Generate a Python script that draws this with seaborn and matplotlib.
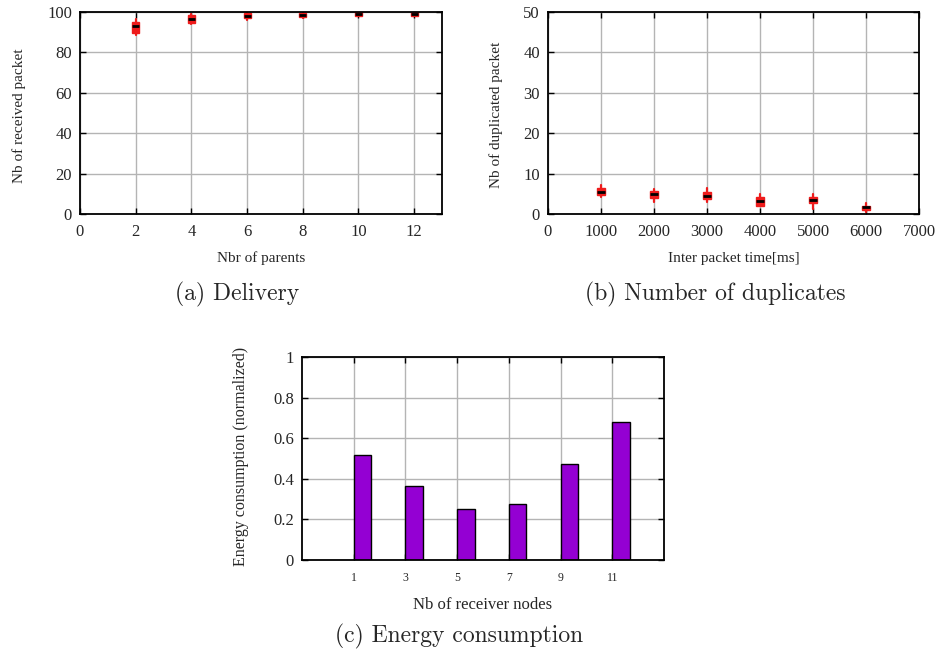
import numpy as np
import pandas as pd
import matplotlib
matplotlib.use("Agg")
import matplotlib.pyplot as plt
import seaborn as sns

# ---------------- data ----------------
parents = [2, 4, 6, 8, 10, 12]
recv_whislo = [88.5, 94.0, 96.0, 97.0, 97.8, 97.8]
recv_q1 = [89.4, 94.5, 96.8, 97.3, 98.0, 98.1]
recv_med = [93.1, 96.6, 98.1, 98.4, 99.0, 99.0]
recv_q3 = [95.1, 98.5, 99.4, 99.5, 99.9, 99.8]
recv_whishi = [96.3, 99.0, 100.0, 100.0, 100.0, 100.0]

inter_packet = [1000, 2000, 3000, 4000, 5000, 6000]
dup_whislo = [4.1, 3.0, 2.9, 2.1, 1.2, 0.6]
dup_q1 = [4.7, 3.9, 3.6, 2.1, 2.6, 1.0]
dup_med = [5.4, 4.95, 4.45, 3.3, 3.5, 1.65]
dup_q3 = [6.5, 5.7, 5.4, 4.3, 4.2, 2.1]
dup_whishi = [7.2, 6.2, 6.5, 4.9, 4.9, 2.6]

receivers = [1, 3, 5, 7, 9, 11]
energy = [0.517, 0.364, 0.253, 0.274, 0.474, 0.679]

# ---------------- style ----------------
sns.set_theme(style="white")
plt.rcParams["font.family"] = ["Liberation Serif", "DejaVu Serif"]
plt.rcParams["axes.linewidth"] = 1.3
plt.rcParams["axes.edgecolor"] = "black"

RED = "#ee1b1b"
PURPLE = "#9400d3"
GRID = "#b4b4b4"

W, H = 940, 658
fig = plt.figure(figsize=(W / 100, H / 100), dpi=100)


def px_axes(left, top, right, bottom):
    return fig.add_axes([left / W, 1 - bottom / H, (right - left) / W, (bottom - top) / H])


def style_axes(ax, xpad=7.5, ypad=5.8, xsize=12, ysize=12):
    ax.set_facecolor("white")
    ax.set_axisbelow(True)
    ax.grid(True, color=GRID, lw=1.0)
    for s in ax.spines.values():
        s.set_color("black")
        s.set_linewidth(1.3)
    ax.tick_params(axis="both", direction="in", length=4, width=1.0, color="black",
                   top=True, right=True, bottom=True, left=True)
    ax.tick_params(axis="x", pad=xpad, labelsize=xsize)
    ax.tick_params(axis="y", pad=ypad, labelsize=ysize)


def boxes(ax, pos, lo, q1, med, q3, hi, width):
    stats = [dict(whislo=a, q1=b, med=c, q3=d, whishi=e)
             for a, b, c, d, e in zip(lo, q1, med, q3, hi)]
    ax.bxp(stats, positions=pos, widths=width, patch_artist=True, showfliers=False,
           manage_ticks=False,
           boxprops=dict(facecolor=RED, edgecolor=RED, linewidth=1.0),
           medianprops=dict(color="black", linewidth=2.0),
           whiskerprops=dict(color=RED, linewidth=1.6),
           capprops=dict(color=RED, linewidth=0))


# ---------------- (a) delivery ----------------
ax1 = px_axes(80, 12, 442, 214)
style_axes(ax1)
boxes(ax1, parents, recv_whislo, recv_q1, recv_med, recv_q3, recv_whishi, 0.25)
ax1.set_xlim(0, 13)
ax1.set_ylim(0, 100)
ax1.set_xticks([0, 2, 4, 6, 8, 10, 12])
ax1.set_yticks([0, 20, 40, 60, 80, 100])
ax1.set_xlabel("Nbr of parents", fontsize=11)
ax1.set_ylabel("Nb of received packet", fontsize=11)
ax1.xaxis.set_label_coords(0.5, (214 - 258) / 202)
ax1.xaxis.label.set_va("center")
ax1.yaxis.set_label_coords((19 - 80) / 362, 0.485)
ax1.yaxis.label.set_va("center")

# ---------------- (b) duplicates ----------------
ax2 = px_axes(548, 12, 919, 214)
style_axes(ax2)
boxes(ax2, inter_packet, dup_whislo, dup_q1, dup_med, dup_q3, dup_whishi, 135)
ax2.set_xlim(0, 7000)
ax2.set_ylim(0, 50)
ax2.set_xticks(list(range(0, 7001, 1000)))
ax2.set_yticks([0, 10, 20, 30, 40, 50])
ax2.set_xlabel("Inter packet time[ms]", fontsize=11)
ax2.set_ylabel("Nb of duplicated packet", fontsize=11)
ax2.xaxis.set_label_coords((734 - 548) / 371, (214 - 258) / 202)
ax2.xaxis.label.set_va("center")
ax2.yaxis.set_label_coords((496 - 548) / 371, 0.49)
ax2.yaxis.label.set_va("center")

# ---------------- (c) energy ----------------
ax3 = px_axes(302, 357, 664, 560)
df = pd.DataFrame({"receivers": receivers, "energy": energy})
sns.barplot(data=df, x="receivers", y="energy", native_scale=True, width=0.34,
            color=PURPLE, saturation=1, edgecolor="black", linewidth=1.0, ax=ax3)
for p in ax3.patches:
    p.set_x(p.get_x() + p.get_width() / 2)
style_axes(ax3, xpad=8.5, xsize=8.5)
ax3.set_xlim(-1, 13)
ax3.set_ylim(0, 1)
ax3.set_xticks(receivers)
ax3.set_yticks([0, 0.2, 0.4, 0.6, 0.8, 1])
ax3.set_yticklabels(["0", "0.2", "0.4", "0.6", "0.8", "1"])
ax3.set_xlabel("Nb of receiver nodes", fontsize=12)
ax3.set_ylabel("Energy consumption (normalized)", fontsize=11.5)
ax3.xaxis.set_label_coords(0.5, (560 - 605) / 203)
ax3.xaxis.label.set_va("center")
ax3.yaxis.set_label_coords((241 - 302) / 362, 0.51)
ax3.yaxis.label.set_va("center")

# ---------------- captions ----------------
cap = dict(fontsize=17, family=["cmr10", "DejaVu Serif"], ha="center", va="center")
fig.text(237 / W, 1 - 294 / H, "(a) Delivery", **cap)
fig.text(715 / W, 1 - 294 / H, "(b) Number of duplicates", **cap)
fig.text(459 / W, 1 - 636 / H, "(c) Energy consumption", **cap)

fig.savefig("out.png", dpi=100, facecolor="white")
